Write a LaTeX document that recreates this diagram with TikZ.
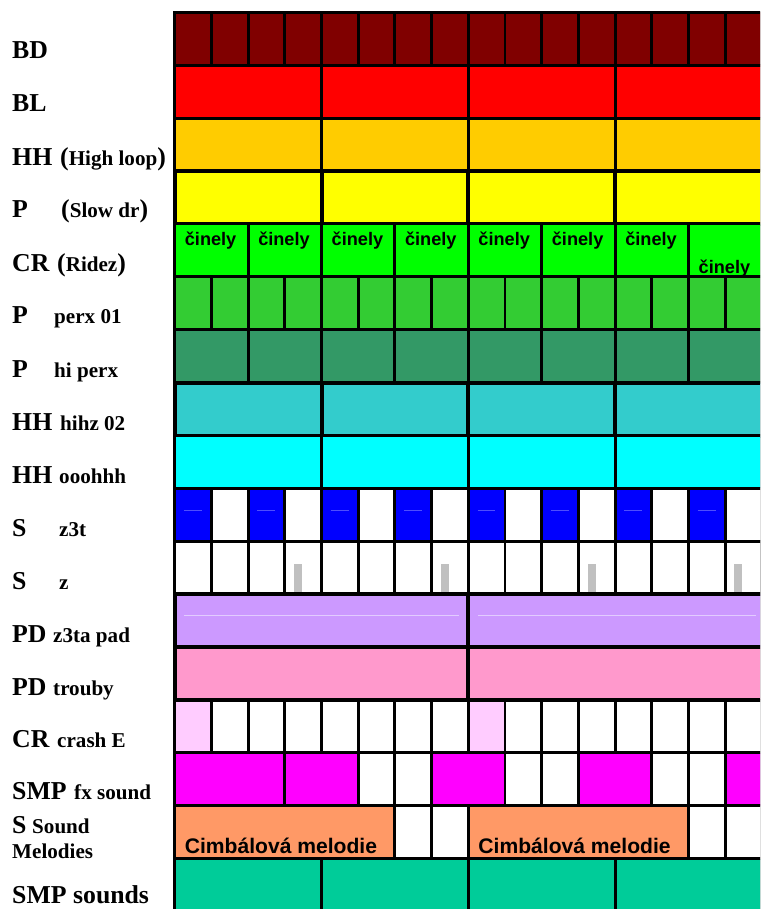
\documentclass[tikz,border=0pt]{standalone}
\usepackage{fontspec}
\setmainfont{Liberation Serif}
\newfontfamily\arialfont{Liberation Sans}
\usepackage{tikz}
\usetikzlibrary{positioning}
\usepackage{xcolor}

\definecolor{bdred}{HTML}{800000}
\definecolor{blred}{HTML}{FF0000}
\definecolor{hhgold}{HTML}{FFCC00}
\definecolor{slowyel}{HTML}{FFFF00}
\definecolor{ridegreen}{HTML}{00FF00}
\definecolor{perxgreen}{HTML}{33CC33}
\definecolor{hiperx}{HTML}{339966}
\definecolor{hihzteal}{HTML}{33CCCC}
\definecolor{oohcyan}{HTML}{00FFFF}
\definecolor{zblue}{HTML}{0000FF}
\definecolor{zdash}{HTML}{4D4DFF}
\definecolor{zgray}{HTML}{C0C0C0}
\definecolor{padlilac}{HTML}{CC99FF}
\definecolor{padline}{HTML}{E2CCFF}
\definecolor{troubypink}{HTML}{FF99CC}
\definecolor{crashpink}{HTML}{FFCCFF}
\definecolor{fxmag}{HTML}{FF00FF}
\definecolor{cimbal}{HTML}{FF9966}
\definecolor{smpgreen}{HTML}{00CC99}

\newcommand{\openpar}{{\fontsize{22}{24}\selectfont(}}
\newcommand{\closepar}{{\fontsize{22}{24}\selectfont)}}

\begin{document}
\begin{tikzpicture}[
    x=0.03cm, y=-0.03cm,
    codelabel/.style={anchor=base west, inner sep=0pt, font=\fontsize{22}{24}\selectfont\bfseries},
    namelabel/.style={anchor=base west, inner sep=0pt, font=\fontsize{18}{20}\selectfont\bfseries},
    celltext/.style={anchor=base west, inner sep=0pt, font=\arialfont\bfseries},
    cellbox/.style={draw, line width=2.5pt},
    heavybox/.style={draw, line width=3.4pt}
]
  \clip (0,0) rectangle (760,909);
  \fill[white] (0,0) rectangle (760,909);

  % --- TRACK LABELS ---
  \node[codelabel] (bd) at (12,59) {BD};
  \node[codelabel] (bl) at (12,112) {BL};
  \node[codelabel] (hhA) at (12,165.5) {HH};
  \node[namelabel] (hhAname) at (60,165.5) {\openpar High loop\closepar};
  \node[codelabel] (pA) at (12,218) {P};
  \node[namelabel] (pAname) at (61,218) {\openpar Slow dr\closepar};
  \node[codelabel] (crA) at (12,271.5) {CR};
  \node[namelabel] (crAname) at (57,271.5) {\openpar Ridez\closepar};
  \node[codelabel] (pB) at (12,324) {P};
  \node[namelabel] (pBname) at (54,324) {perx 01};
  \node[codelabel] (pC) at (12,377) {P};
  \node[namelabel] (pCname) at (54,377) {hi perx};
  \node[codelabel] (hhB) at (12,430) {HH};
  \node[namelabel] (hhBname) at (60,430) {hihz 02};
  \node[codelabel] (hhC) at (12,483) {HH};
  \node[namelabel] (hhCname) at (59,483) {ooohhh};
  \node[codelabel] (sA) at (12,536.5) {S};
  \node[namelabel] (sAname) at (59,536.5) {z3t};
  \node[codelabel] (sB) at (12,589) {S};
  \node[namelabel] (sBname) at (59,589) {z};
  \node[codelabel] (pdA) at (12,642) {PD};
  \node[namelabel] (pdAname) at (53,642) {z3ta pad};
  \node[codelabel] (pdB) at (12,695) {PD};
  \node[namelabel] (pdBname) at (53,695) {trouby};
  \node[codelabel] (crB) at (12,747.5) {CR};
  \node[namelabel] (crBname) at (57,747.5) {crash E};
  \node[codelabel] (smpA) at (12,799.5) {SMP};
  \node[namelabel] (smpAname) at (74,799.5) {fx sound};
  \node[codelabel] (sC) at (12,833) {S};
  \node[namelabel] (sCname) at (32,833) {Sound};
  \node[namelabel] (sCmore) at (12,858) {Melodies};
  \node[codelabel] (smpB) at (12,903.5) {SMP sounds};

  % --- PATTERN GRID (one unit = one step, one row) ---
  \begin{scope}[xshift=5.241cm, yshift=-0.369cm, x=1.101cm, y=-1.587cm]

    % BD, BL, HH high loop, P slow dr
    \foreach \c in {0,...,15} \draw[cellbox, fill=bdred] (\c,0) rectangle ++(1,1);
    \foreach \c in {0,4,8,12} \draw[cellbox, fill=blred] (\c,1) rectangle ++(4,1);
    \foreach \c in {0,4,8,12} \draw[cellbox, fill=hhgold] (\c,2) rectangle ++(4,1);
    \foreach \c in {0,4,8,12} \draw[heavybox, fill=slowyel] (\c,3) rectangle ++(4,1);

    % CR ridez
    \foreach \c in {0,2,...,14} \draw[cellbox, fill=ridegreen] (\c,4) rectangle ++(2,1);
    \foreach \c [count=\i] in {0,2,...,12}
      \node[celltext, font=\arialfont\bfseries\fontsize{15.5}{17}\selectfont] (cin\i) at (\c+0.27,4.4) {činely};
    \node[celltext, font=\arialfont\bfseries\fontsize{15.5}{17}\selectfont] (cin8) at (14.27,4.93) {činely};

    % P perx 01, P hi perx
    \foreach \c in {0,...,15} \draw[cellbox, fill=perxgreen] (\c,5) rectangle ++(1,1);
    \foreach \c in {0,2,...,14} \draw[cellbox, fill=hiperx] (\c,6) rectangle ++(2,1);

    % HH hihz 02, HH ooohhh
    \foreach \c in {0,4,8,12} \draw[heavybox, fill=hihzteal] (\c,7) rectangle ++(4,1);
    \foreach \c in {0,4,8,12} \draw[cellbox, fill=oohcyan] (\c,8) rectangle ++(4,1);

    % S z3t
    \foreach \c in {0,2,...,14} {
      \draw[cellbox, fill=zblue] (\c,9) rectangle ++(1,1);
      \draw[cellbox, fill=white] (\c+1,9) rectangle ++(1,1);
      \draw[zdash, line width=0.6pt] (\c+0.25,9.41) -- (\c+0.74,9.41);
    }

    % S z
    \foreach \c in {0,...,15} \draw[cellbox, fill=white] (\c,10) rectangle ++(1,1);
    \foreach \c in {3,7,11,15} \fill[zgray] (\c+0.25,10.43) rectangle (\c+0.47,11);
    \foreach \c in {0,...,15} \draw[cellbox] (\c,10) rectangle ++(1,1);

    % PD z3ta pad, PD trouby
    \foreach \c in {0,8} \draw[heavybox, fill=padlilac] (\c,11) rectangle ++(8,1);
    \draw[padline, line width=0.8pt] (0.25,11.41) -- (7.75,11.41);
    \draw[padline, line width=0.8pt] (8.27,11.41) -- (15.83,11.41);
    \foreach \c in {0,8} \draw[heavybox, fill=troubypink] (\c,12) rectangle ++(8,1);

    % CR crash E
    \foreach \c in {0,...,15} \draw[cellbox, fill=white] (\c,13) rectangle ++(1,1);
    \foreach \c in {0,8} \draw[cellbox, fill=crashpink] (\c,13) rectangle ++(1,1);

    % SMP fx sound
    \foreach \c in {5,6,9,10,13,14} \draw[cellbox, fill=white] (\c,14) rectangle ++(1,1);
    \draw[cellbox, fill=fxmag] (0,14) rectangle ++(3,1);
    \draw[cellbox, fill=fxmag] (3,14) rectangle ++(2,1);
    \draw[cellbox, fill=fxmag] (7,14) rectangle ++(2,1);
    \draw[cellbox, fill=fxmag] (11,14) rectangle ++(2,1);
    \draw[cellbox, fill=fxmag] (15,14) rectangle ++(1,1);

    % S sound melodies
    \foreach \c in {6,7,14,15} \draw[cellbox, fill=white] (\c,15) rectangle ++(1,1);
    \foreach \c [count=\i] in {0,8} {
      \draw[cellbox, fill=cimbal] (\c,15) rectangle ++(6,1);
      \node[celltext, font=\arialfont\bfseries\fontsize{18}{20}\selectfont] (cimb\i) at (\c+0.27,15.91) {Cimbálová melodie};
    }

    % SMP sounds
    \foreach \c in {0,4,8,12} \draw[cellbox, fill=smpgreen] (\c,16) rectangle ++(4,1);
  \end{scope}
\end{tikzpicture}
\end{document}
